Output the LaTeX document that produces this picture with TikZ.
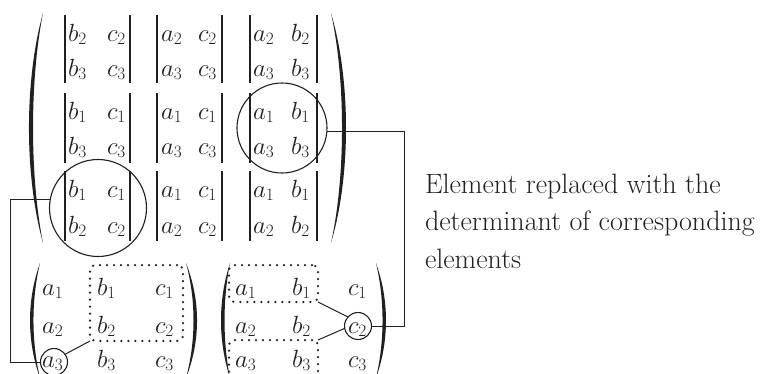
\documentclass[tikz,border=0pt]{standalone}
\usepackage{tikz}
\definecolor{ink}{RGB}{35,31,32}
\begin{document}
\begin{tikzpicture}[x=1pt,y=-1pt,
  every node/.style={inner sep=0pt, outer sep=0pt, text=ink},
  ent/.style={anchor=base west, font=\fontsize{25.5}{30}\selectfont},
  lbl/.style={anchor=base west, font=\fontsize{28}{36}\selectfont},
  detbar/.style={draw=ink, line width=1.5pt},
  ring/.style={circle, draw=ink, line width=1.1pt},
  link/.style={draw=ink, line width=1pt},
  dotbox/.style={draw=ink, rounded corners=6pt, line width=2.5pt, dash pattern=on 0pt off 7pt, line cap=round},
  parenfill/.style={fill=ink, draw=none}]
\useasboundingbox (0,0) rectangle (763,373);
\clip (0,0) rectangle (763,373);

% big matrix entries
\foreach \y/\r/\ta/\tb/\tc/\td/\te/\tf in {
  41/1/b_2/c_2/a_2/c_2/a_2/b_2,
  76/2/b_3/c_3/a_3/c_3/a_3/b_3,
  119/3/b_1/c_1/a_1/c_1/a_1/b_1,
  154/4/b_3/c_3/a_3/c_3/a_3/b_3,
  197/5/b_1/c_1/a_1/c_1/a_1/b_1,
  233/6/b_2/c_2/a_2/c_2/a_2/b_2}{
  \node[ent] (M\r a) at (68,\y) {$\ta$};
  \node[ent] (M\r b) at (107,\y) {$\tb$};
  \node[ent] (M\r c) at (161,\y) {$\tc$};
  \node[ent] (M\r d) at (198,\y) {$\td$};
  \node[ent] (M\r e) at (253,\y) {$\te$};
  \node[ent] (M\r f) at (291,\y) {$\tf$};
}

% determinant bars
\foreach \ya/\yb in {15/83, 93/163, 171/241}{
  \foreach \x in {65,130,157,222,250,317}{
    \draw[detbar] (\x,\ya) -- (\x,\yb);
  }
}

% big parentheses
\fill[parenfill] (43,13) .. controls (24.3,80) and (24.3,176) .. (43,243)
  .. controls (29.7,176) and (29.7,80) .. (43,13) -- cycle;
\fill[parenfill] (331,13) .. controls (351,80) and (351,176) .. (331,243)
  .. controls (345.7,176) and (345.7,80) .. (331,13) -- cycle;

% small matrices entries
\foreach \y/\r in {295/1,333/2,367/3}{
  \node[ent] (L\r a) at (42,\y) {$a_\r$};
  \node[ent] (L\r b) at (97,\y) {$b_\r$};
  \node[ent] (L\r c) at (155,\y) {$c_\r$};
  \node[ent] (R\r a) at (235,\y) {$a_\r$};
  \node[ent] (R\r b) at (292,\y) {$b_\r$};
  \node[ent] (R\r c) at (348,\y) {$c_\r$};
}

% small parentheses
\fill[parenfill] (40,263) .. controls (26.7,300) and (26.7,341) .. (40,378)
  .. controls (31.3,341) and (31.3,300) .. (40,263) -- cycle;
\fill[parenfill] (186,263) .. controls (200.7,300) and (200.7,341) .. (186,378)
  .. controls (196,341) and (196,300) .. (186,263) -- cycle;
\fill[parenfill] (230,263) .. controls (218,300) and (218,341) .. (230,378)
  .. controls (222.7,341) and (222.7,300) .. (230,263) -- cycle;
\fill[parenfill] (376,263) .. controls (389.3,300) and (389.3,341) .. (376,378)
  .. controls (384.7,341) and (384.7,300) .. (376,263) -- cycle;

% circles
\node[ring, minimum size=97pt] (circA) at (98,208) {};
\node[ring, minimum size=90pt] (circB) at (282,128) {};
\node[ring, minimum size=27pt] (a3c) at (54,362) {};
\node[ring, minimum size=27pt] (c2c) at (358,326) {};

% dotted boxes
\node[dotbox, minimum width=93pt, minimum height=76pt] (dL) at (136.5,303) {};
\node[dotbox, minimum width=89pt, minimum height=37pt] (dRT) at (273.5,283.5) {};
\node[dotbox, minimum width=89pt, minimum height=70pt] (dRB) at (273.5,375) {};

% connectors
\coordinate (lx) at (10,0);
\coordinate (rx) at (404,0);
\draw[link] (circA.170) -| (lx |- a3c.west) -- (a3c.west);
\draw[link] (circB.-4) -| (rx |- c2c.east) -- (c2c.east);
\draw[link] (a3c.35) -- (dL.south west);
\draw[link] (c2c.138) -- (dRT.south east);
\draw[link] (c2c.190) -- (dRB.north east);

% label
\node[lbl] (t1) at (425,193) {Element replaced with the};
\node[lbl] (t2) at (425,230.5) {determinant of corresponding};
\node[lbl] (t3) at (425,268) {elements};
\end{tikzpicture}
\end{document}
